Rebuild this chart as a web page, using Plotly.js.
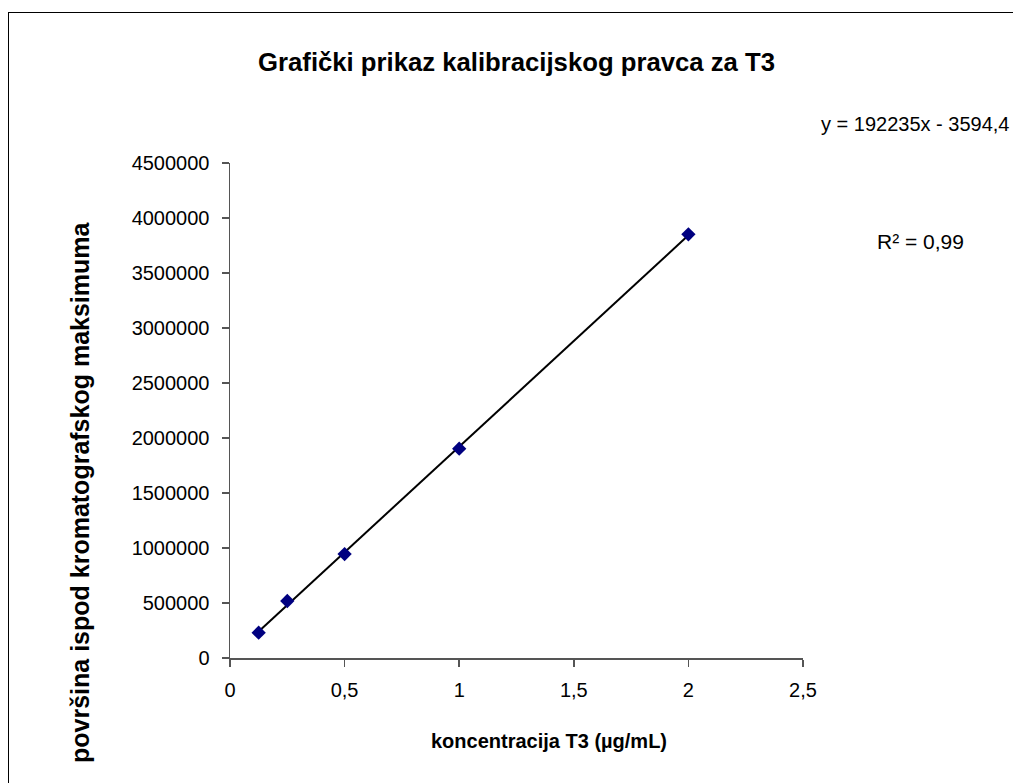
<!DOCTYPE html>
<html>
<head>
<meta charset="utf-8">
<script src="https://cdn.plot.ly/plotly-3.0.1.min.js"></script>
<style>
html,body{margin:0;padding:0;background:#fff;overflow:hidden;}
#frame{position:absolute;left:8px;top:12px;width:1100px;height:900px;border-left:1.6px solid #000;border-top:1.6px solid #000;}
#chart{position:absolute;left:0;top:0;width:1013px;height:783px;}
</style>
</head>
<body>
<div id="frame"></div>
<div id="chart"></div>
<script>
// Data
var concentration = [0.125, 0.25, 0.5, 1, 2];          // µg/mL
var peakArea = [230000, 518000, 945000, 1903000, 3852000];
var xTickVals = [0, 0.5, 1, 1.5, 2, 2.5];
var xTickText = ['0', '0,5', '1', '1,5', '2', '2,5'];
var yTickVals = [0, 500000, 1000000, 1500000, 2000000, 2500000, 3000000, 3500000, 4000000, 4500000];
var yTickText = yTickVals.map(function(v){ return String(v); });
var titleText = 'Grafički prikaz kalibracijskog pravca za T3';
var xTitleText = 'koncentracija T3 (µg/mL)';
var yTitleText = 'površina ispod kromatografskog maksimuma';
var equationText = 'y = 192235x - 3594,4';
var r2Text = 'R² = 0,99';

// least-squares trendline from the data
var n = concentration.length;
var mx = concentration.reduce(function(a,b){return a+b;},0)/n;
var my = peakArea.reduce(function(a,b){return a+b;},0)/n;
var sxy = 0, sxx = 0;
for (var i=0;i<n;i++){ sxy += (concentration[i]-mx)*(peakArea[i]-my); sxx += (concentration[i]-mx)*(concentration[i]-mx); }
var slope = sxy/sxx, intercept = my - slope*mx;
var xMin = Math.min.apply(null, concentration), xMax = Math.max.apply(null, concentration);
var trendX = [xMin, xMax];
var trendY = trendX.map(function(x){ return slope*x + intercept; });

var font = 'Liberation Sans, Arial, sans-serif';

// plot area in pixels (for placing free text)
var L = 230, R = 803, T = 163, B = 658;
function px(x){ return (x - L) / (R - L); }
function py(y){ return (B - y) / (B - T); }

var traces = [
  {x: trendX, y: trendY, mode: 'lines', line: {color: '#000000', width: 2}, hoverinfo: 'skip', showlegend: false},
  {x: concentration, y: peakArea, mode: 'markers', marker: {symbol: 'diamond', size: 11, color: '#000080'}, showlegend: false}
];

var layout = {
  width: 1013, height: 783,
  paper_bgcolor: 'rgba(0,0,0,0)', plot_bgcolor: 'rgba(0,0,0,0)',
  margin: {l: L, r: 1013 - R, t: T, b: 783 - B},
  showlegend: false,
  font: {family: font, color: '#000', size: 20},
  title: {text: '<b>' + titleText + '</b>', font: {family: font, size: 25.7, color: '#000'},
          x: 0.5, xref: 'paper', xanchor: 'center', y: 1 - 62/783, yanchor: 'middle'},
  xaxis: {
    range: [0, 2.5], tickvals: xTickVals, ticktext: xTickText,
    showgrid: false, zeroline: false, showline: true, linecolor: '#555', linewidth: 1.5,
    ticks: 'outside', ticklen: 7, tickwidth: 1.5, tickcolor: '#555',
    ticklabelstandoff: 6,
    tickfont: {family: font, size: 20, color: '#000'}
  },
  yaxis: {
    range: [0, 4500000], tickvals: yTickVals, ticktext: yTickText,
    showgrid: false, zeroline: false, showline: true, linecolor: '#555', linewidth: 1.5,
    ticks: 'outside', ticklen: 7, tickwidth: 1.5, tickcolor: '#555',
    ticklabelstandoff: 8,
    tickfont: {family: font, size: 20, color: '#000'}
  },
  annotations: [
    {text: '<b>' + xTitleText + '</b>', xref: 'paper', yref: 'paper',
     x: px(429), y: py(741), xanchor: 'left', yanchor: 'middle',
     showarrow: false, font: {family: font, size: 20, color: '#000'}},
    {text: '<b>' + yTitleText + '</b>', xref: 'paper', yref: 'paper',
     x: px(80), y: py(492), xanchor: 'center', yanchor: 'middle', textangle: -90,
     showarrow: false, font: {family: font, size: 25, color: '#000'}},
    {text: equationText, xref: 'paper', yref: 'paper', x: px(819), y: py(124),
     xanchor: 'left', yanchor: 'middle', showarrow: false, font: {family: font, size: 20, color: '#000'}},
    {text: r2Text, xref: 'paper', yref: 'paper', x: px(875), y: py(241),
     xanchor: 'left', yanchor: 'middle', showarrow: false, font: {family: font, size: 21, color: '#000'}}
  ]
};

Plotly.newPlot('chart', traces, layout, {displayModeBar: false, staticPlot: true});
</script>
</body>
</html>
